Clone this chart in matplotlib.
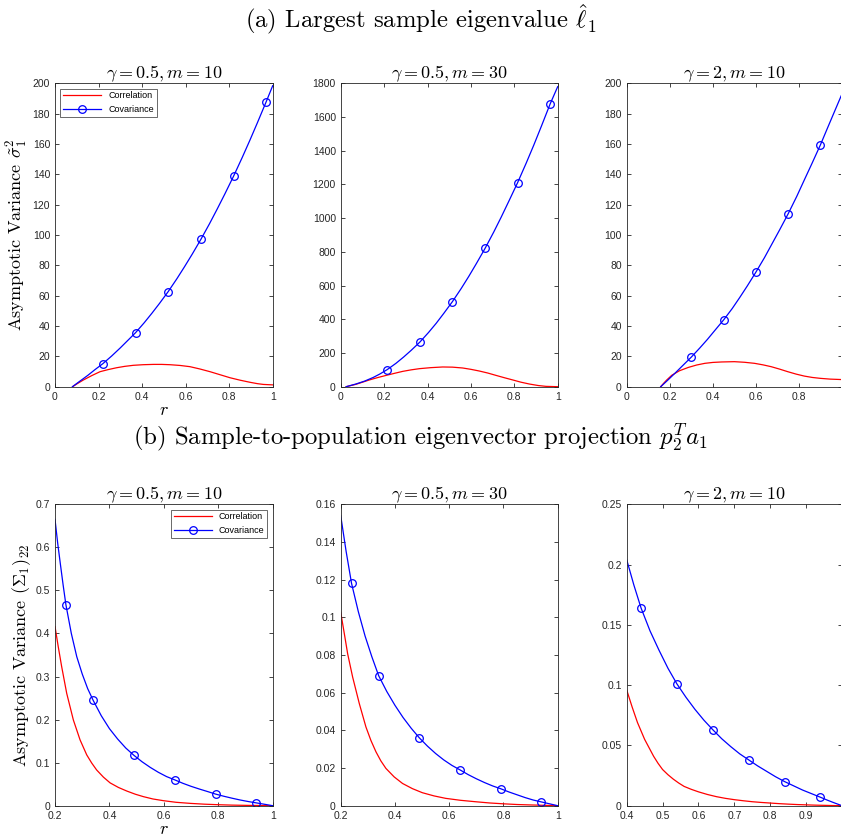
import numpy as np
import matplotlib
matplotlib.use('Agg')
import matplotlib.pyplot as plt

plt.rcParams['mathtext.fontset'] = 'cm'
plt.rcParams['font.family'] = ['Liberation Sans', 'DejaVu Sans']

# (a) largest sample eigenvalue
r_a1_cov = [0.08, 0.11, 0.15, 0.185, 0.22, 0.26, 0.30, 0.335, 0.37, 0.41, 0.445, 0.48, 0.52,
            0.56, 0.595, 0.63, 0.67, 0.71, 0.745, 0.78, 0.82, 0.86, 0.895, 0.93, 0.97, 1.0]
v_a1_cov = [0, 3.2, 7.4, 11.4, 15.2, 20.2, 25.6, 30.6, 35.6, 42.2, 48.4, 54.9, 62.7,
            71.2, 79.1, 87.3, 97.1, 107.5, 117.1, 127.0, 138.7, 151.1, 162.4, 174.1, 187.8, 198.4]
r_a1_cor = [0.081, 0.10, 0.13, 0.17, 0.207, 0.245, 0.283, 0.32, 0.36, 0.405, 0.452, 0.49, 0.528,
            0.575, 0.62, 0.665, 0.712, 0.758, 0.804, 0.85, 0.896, 0.93, 0.957, 1.0]
v_a1_cor = [0, 1.8, 4.4, 7.4, 9.9, 11.3, 12.5, 13.4, 14.1, 14.5, 14.7, 14.7, 14.5,
            14.0, 13.2, 11.7, 9.9, 7.9, 5.9, 4.3, 2.9, 2.0, 1.5, 1.2]

r_a2_cov = [0.025, 0.07, 0.11, 0.15, 0.18, 0.215, 0.255, 0.29, 0.325, 0.365, 0.405, 0.44, 0.475,
            0.515, 0.555, 0.59, 0.625, 0.665, 0.705, 0.74, 0.775, 0.815, 0.855, 0.89, 0.925, 0.965, 1.0]
v_a2_cov = [0, 16, 33, 55, 75, 102, 139, 176, 216, 265, 322, 376, 435,
            505, 582, 654, 730, 820, 917, 1007, 1101, 1210, 1327, 1434, 1546, 1677, 1780]
r_a2_cor = [0.025, 0.07, 0.132, 0.17, 0.209, 0.25, 0.286, 0.325, 0.363, 0.415, 0.47, 0.515,
            0.562, 0.60, 0.639, 0.678, 0.716, 0.755, 0.793, 0.83, 0.869, 0.91, 0.946, 1.0]
v_a2_cor = [0, 14, 40, 54, 67, 80, 91, 100, 107, 113, 117, 116,
            111, 103, 93, 81, 67, 53, 40, 27, 16, 7, 2, 0]

r_a3_cov = [0.158, 0.19, 0.225, 0.26, 0.30, 0.34, 0.375, 0.41, 0.45, 0.49, 0.525, 0.56, 0.60,
            0.64, 0.675, 0.71, 0.75, 0.79, 0.825, 0.86, 0.90, 0.935, 0.97, 1.0]
v_a3_cov = [0, 4.2, 9.0, 13.9, 19.5, 25.6, 31.2, 37.2, 44.0, 51.5, 58.8, 66.4, 75.5,
            85.1, 94.2, 103.3, 114.0, 125.5, 136.3, 147.0, 159.5, 171.3, 183.0, 193.0]
r_a3_cor = [0.158, 0.17, 0.185, 0.209, 0.245, 0.286, 0.325, 0.363, 0.40, 0.44, 0.50, 0.547, 0.594,
            0.633, 0.671, 0.71, 0.748, 0.787, 0.825, 0.862, 0.90, 0.945, 1.0]
v_a3_cor = [0, 2.0, 4.3, 7.5, 10.5, 12.7, 14.3, 15.4, 16.0, 16.3, 16.5, 16.1, 15.4,
            14.4, 13.2, 11.6, 9.9, 8.3, 7.0, 6.1, 5.5, 5.0, 4.7]

# (b) eigenvector projection
r_b1_cov = [0.20, 0.21, 0.22, 0.23, 0.24, 0.26, 0.28, 0.30, 0.32, 0.34, 0.37, 0.40, 0.43, 0.46,
            0.49, 0.52, 0.55, 0.58, 0.61, 0.64, 0.67, 0.70, 0.73, 0.76, 0.79, 0.82, 0.85, 0.88,
            0.91, 0.94, 0.97, 1.0]
v_b1_cov = [0.665, 0.609, 0.560, 0.512, 0.467, 0.400, 0.346, 0.306, 0.272, 0.245, 0.209, 0.179,
            0.155, 0.134, 0.117, 0.102, 0.089, 0.0775, 0.0676, 0.060, 0.052, 0.045, 0.0388, 0.033,
            0.027, 0.022, 0.0175, 0.0133, 0.0097, 0.0065, 0.0033, 0]
r_b1_cor = [0.20, 0.212, 0.2245, 0.243, 0.2675, 0.292, 0.3166, 0.335, 0.353, 0.378, 0.4025,
            0.433, 0.464, 0.495, 0.525, 0.56, 0.599, 0.645, 0.697, 0.75, 0.80, 0.85, 0.90, 0.95, 1.0]
v_b1_cor = [0.416, 0.369, 0.323, 0.261, 0.199, 0.153, 0.118, 0.099, 0.083, 0.0663, 0.053,
            0.0424, 0.034, 0.0267, 0.021, 0.0156, 0.0116, 0.0079, 0.0054, 0.0035, 0.0023,
            0.00136, 0.0008, 0.0004, 0]

r_b2_cov = [0.20, 0.22, 0.24, 0.265, 0.29, 0.315, 0.34, 0.37, 0.40, 0.43, 0.46, 0.49, 0.52, 0.55,
            0.58, 0.61, 0.64, 0.67, 0.70, 0.73, 0.76, 0.79, 0.82, 0.85, 0.88, 0.91, 0.94, 0.97, 1.0]
v_b2_cov = [0.154, 0.135, 0.118, 0.103, 0.090, 0.079, 0.069, 0.0606, 0.0533, 0.0468, 0.0411,
            0.036, 0.0316, 0.0277, 0.0243, 0.0214, 0.019, 0.0165, 0.0143, 0.0123, 0.0105, 0.009,
            0.0073, 0.0058, 0.0043, 0.003, 0.002, 0.001, 0]
r_b2_cor = [0.20, 0.2135, 0.2257, 0.244, 0.2686, 0.293, 0.3115, 0.330, 0.348, 0.3667, 0.397,
            0.428, 0.4645, 0.501, 0.544, 0.587, 0.642, 0.6975, 0.749, 0.80, 0.85, 0.90, 0.95, 1.0]
v_b2_cor = [0.1027, 0.0912, 0.0806, 0.0683, 0.0542, 0.0418, 0.0346, 0.0286, 0.0238, 0.0198,
            0.0153, 0.0118, 0.00905, 0.0069, 0.0052, 0.0039, 0.00286, 0.0021, 0.00145, 0.0010,
            0.00063, 0.0004, 0.0002, 0]

r_b3_cov = [0.40, 0.42, 0.44, 0.465, 0.49, 0.515, 0.54, 0.565, 0.59, 0.615, 0.64, 0.665, 0.69,
            0.715, 0.74, 0.765, 0.79, 0.815, 0.84, 0.865, 0.89, 0.915, 0.94, 0.96, 0.98, 1.0]
v_b3_cov = [0.204, 0.183, 0.164, 0.145, 0.129, 0.114, 0.101, 0.090, 0.080, 0.071, 0.063, 0.0555,
            0.049, 0.043, 0.038, 0.033, 0.0285, 0.024, 0.020, 0.0165, 0.013, 0.010, 0.007,
            0.0045, 0.0022, 0]
r_b3_cor = [0.40, 0.415, 0.43, 0.45, 0.475, 0.4875, 0.50, 0.515, 0.53, 0.545, 0.56, 0.58, 0.60,
            0.625, 0.65, 0.675, 0.70, 0.725, 0.75, 0.775, 0.80, 0.825, 0.85, 0.875, 0.90, 0.925,
            0.95, 0.975, 1.0]
v_b3_cor = [0.096, 0.082, 0.069, 0.055, 0.041, 0.0351, 0.030, 0.0257, 0.022, 0.0188, 0.016,
            0.01357, 0.0115, 0.0093, 0.0075, 0.0061, 0.005, 0.0041, 0.0033, 0.0027, 0.0022,
            0.0017, 0.0013, 0.00095, 0.0007, 0.00046, 0.0003, 0.00012, 0]

# which covariance points carry a circle marker
marks_a1 = [4, 8, 12, 16, 20, 24]
marks_a2 = [5, 9, 13, 17, 21, 25]
marks_a3 = [4, 8, 12, 16, 20]
marks_b1 = [4, 9, 14, 19, 24, 29]
marks_b2 = [2, 6, 11, 16, 21, 26]
marks_b3 = [2, 6, 10, 14, 18, 22]

titles = [r'$\gamma = 0.5, m = 10$', r'$\gamma = 0.5, m = 30$', r'$\gamma = 2, m = 10$']

fig = plt.figure(figsize=(8.41, 8.40), dpi=100)

W, H = 841., 840.
lefts = [55, 340.7, 626.7]
rights = [272.7, 557.7, 842]
rows = [(83.3, 386.7), (504.3, 805.7)]

panels = [
    (r_a1_cov, v_a1_cov, r_a1_cor, v_a1_cor, marks_a1, (0, 1), (0, 200), np.arange(0, 1.01, 0.2), np.arange(0, 201, 20)),
    (r_a2_cov, v_a2_cov, r_a2_cor, v_a2_cor, marks_a2, (0, 1), (0, 1800), np.arange(0, 1.01, 0.2), np.arange(0, 1801, 200)),
    (r_a3_cov, v_a3_cov, r_a3_cor, v_a3_cor, marks_a3, (0, 1), (0, 200), np.arange(0, 1.01, 0.2), np.arange(0, 201, 20)),
    (r_b1_cov, v_b1_cov, r_b1_cor, v_b1_cor, marks_b1, (0.2, 1), (0, 0.7), np.arange(0.2, 1.01, 0.2), np.arange(0, 0.71, 0.1)),
    (r_b2_cov, v_b2_cov, r_b2_cor, v_b2_cor, marks_b2, (0.2, 1), (0, 0.16), np.arange(0.2, 1.01, 0.2), np.arange(0, 0.161, 0.02)),
    (r_b3_cov, v_b3_cov, r_b3_cor, v_b3_cor, marks_b3, (0.4, 1), (0, 0.25), np.arange(0.4, 1.01, 0.1), np.arange(0, 0.251, 0.05)),
]

def fmt(v):
    return ('%.2f' % v).rstrip('0').rstrip('.')

leg_kw = dict(fontsize=6.5, frameon=True, fancybox=False, edgecolor='#262626',
              borderpad=0.3, handlelength=4.2, borderaxespad=0.6)

for k, (rc, vc, rr, vr, mk, xl, yl, xt, yt) in enumerate(panels):
    row, col = divmod(k, 3)
    t, b = rows[row]
    ax = fig.add_axes([lefts[col] / W, (H - b) / H, (rights[col] - lefts[col]) / W, (b - t) / H])
    ax.plot(rr, vr, color='red', lw=0.9, label='Correlation')
    ax.plot(rc, vc, color='blue', lw=0.9, marker='o', markevery=mk, mfc='none',
            ms=5.5, mew=0.9, label='Covariance')
    ax.set_xlim(*xl)
    ax.set_ylim(*yl)
    ax.set_xticks(xt)
    ax.set_yticks(yt)
    xlabels = [fmt(v) for v in xt]
    if col == 2:
        # right column runs past the picture edge, its last label is not shown
        xlabels[-1] = ''
    ax.set_xticklabels(xlabels)
    ax.set_yticklabels([fmt(v) for v in yt])
    ax.tick_params(direction='in', top=True, right=True, labelsize=7.5,
                   colors='#262626', length=3, width=0.6)
    for s in ax.spines.values():
        s.set_linewidth(0.6)
        s.set_color('#262626')
    ax.set_title(titles[col], fontsize=13, pad=4)
    if col == 0:
        ax.set_xlabel(r'$r$', fontsize=13, labelpad=0)
        if row == 0:
            ax.set_ylabel(r'Asymptotic Variance $\tilde{\sigma}_1^2$', family='cmr10',
                          fontsize=13, labelpad=2)
            lg = ax.legend(loc='upper left', **leg_kw)
        else:
            ax.set_ylabel(r'Asymptotic Variance $(\Sigma_1)_{22}$', family='cmr10',
                          fontsize=13, labelpad=2)
            lg = ax.legend(loc='upper right', **leg_kw)
        lg.get_frame().set_linewidth(0.6)

fig.text(0.5, 1 - 20 / H, r'(a) Largest sample eigenvalue $\hat{\ell}_1$',
         family='cmr10', ha='center', va='center', fontsize=17.8)
fig.text(0.5, 1 - 437 / H, r'(b) Sample-to-population eigenvector projection $p_2^T a_1$',
         family='cmr10', ha='center', va='center', fontsize=17.8)

fig.savefig('out.png', dpi=100)
